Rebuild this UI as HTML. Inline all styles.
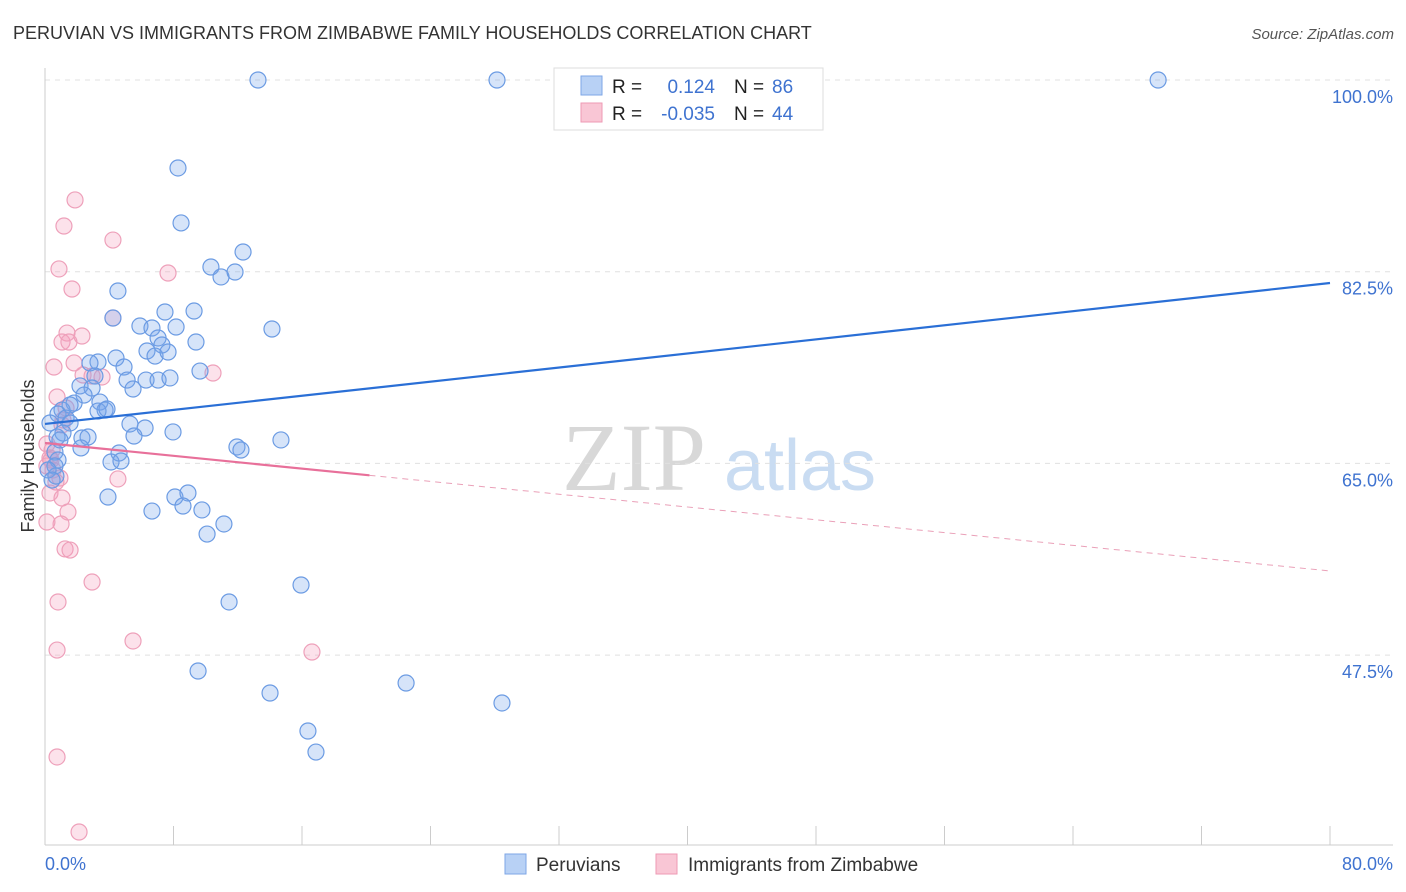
<!DOCTYPE html>
<html><head><meta charset="utf-8"><style>
body{margin:0;background:#fff;font-family:"Liberation Sans",sans-serif;}
svg{display:block}
</style></head><body>
<svg id="chart" width="1406" height="892" xmlns="http://www.w3.org/2000/svg">
<text x="13" y="39" font-size="18" fill="#333">PERUVIAN VS IMMIGRANTS FROM ZIMBABWE FAMILY HOUSEHOLDS CORRELATION CHART</text>
<text x="1394" y="39" font-size="15" fill="#555" text-anchor="end" font-style="italic">Source: ZipAtlas.com</text>
<g>
<text x="634" y="490" font-size="96" fill="#d8d8d8" font-family="Liberation Serif,serif" text-anchor="middle">ZIP</text>
<text x="800" y="490" font-size="72" fill="#c9dcf2" text-anchor="middle">atlas</text>
</g>
<g id="grid"></g>
<g id="axes"></g>
<g id="pts"></g>
<g id="lines"></g>
<text transform="translate(34,456) rotate(-90)" font-size="18" fill="#333" text-anchor="middle">Family Households</text>
<text x="45" y="870" font-size="18" fill="#3f73d0">0.0%</text>
<text x="1393" y="870" font-size="18" fill="#3f73d0" text-anchor="end">80.0%</text>
<g>
<rect x="554" y="68" width="269" height="62" fill="#fff" stroke="#ddd"/>
<rect x="581" y="76" width="21" height="19" fill="#b8d1f5" stroke="#7ea6e6"/>
<rect x="581" y="103" width="21" height="19" fill="#f9c6d5" stroke="#ee9ab4"/>
<text x="612" y="93" font-size="19" fill="#222">R =</text>
<text x="715" y="93" font-size="19" fill="#3f73d0" text-anchor="end">0.124</text>
<text x="734" y="93" font-size="19" fill="#222">N =</text>
<text x="772" y="93" font-size="19" fill="#3f73d0">86</text>
<text x="612" y="120" font-size="19" fill="#222">R =</text>
<text x="715" y="120" font-size="19" fill="#3f73d0" text-anchor="end">-0.035</text>
<text x="734" y="120" font-size="19" fill="#222">N =</text>
<text x="772" y="120" font-size="19" fill="#3f73d0">44</text>
</g>
<g>
<rect x="505" y="854" width="21" height="20" fill="#b8d1f5" stroke="#7ea6e6"/>
<text x="536" y="871" font-size="19" fill="#333">Peruvians</text>
<rect x="656" y="854" width="21" height="20" fill="#f9c6d5" stroke="#ee9ab4"/>
<text x="688" y="871" font-size="19" fill="#333">Immigrants from Zimbabwe</text>
</g>
</svg>
<script>
const yTicks=[100,82.5,65,47.5];
const yTickLabels=["100.0%","82.5%","65.0%","47.5%"];
const blueX=[13.26,28.14,69.3,8.28,8.47,12.33,10.33,10.96,11.83,4.54,4.23,7.47,9.28,5.91,6.66,8.16,7.04,14.13,9.40,6.35,7.28,6.85,7.66,3.30,4.42,2.80,4.92,3.11,5.11,6.29,7.04,7.78,9.65,2.18,2.93,5.48,2.43,1.81,3.42,3.74,1.06,1.56,0.81,3.30,3.86,1.31,1.56,5.29,6.23,5.54,7.97,1.12,0.75,2.30,2.68,2.24,11.95,12.20,14.69,0.62,4.61,0.81,4.11,4.73,0.62,0.68,3.92,8.09,8.90,8.59,6.66,9.77,11.14,10.09,15.94,11.46,9.53,14.01,22.48,28.45,16.37,16.87,0.19,0.44,0.31,0.93];
const blueY=[100,100,100,91.97,86.95,84.30,82.93,82.02,82.47,80.74,78.27,78.82,78.91,77.54,77.36,77.45,76.45,77.27,76.08,75.26,75.81,74.80,75.17,74.26,74.62,74.17,73.80,72.98,72.61,72.61,72.61,72.80,73.43,72.07,71.88,71.79,71.24,70.51,70.60,69.87,69.87,70.33,69.51,69.78,69.97,69.14,68.69,68.60,68.23,67.50,67.87,67.77,67.41,67.32,67.41,66.41,66.50,66.22,67.14,66.04,65.95,65.31,65.13,65.22,64.76,63.85,61.93,61.93,62.30,61.11,60.65,60.75,59.47,58.55,53.90,52.35,46.05,44.04,44.95,43.13,40.57,38.65,64.40,63.48,68.69,67.14];
const pinkX=[1.87,1.18,4.23,0.87,7.66,1.68,4.23,1.37,2.30,1.06,1.49,0.56,1.81,10.46,3.55,2.37,2.93,0.75,1.31,1.12,1.06,0.12,0.44,0.31,0.12,0.50,0.93,0.68,0.31,1.06,1.43,1.00,0.12,1.25,1.56,2.93,0.81,5.48,0.75,16.62,0.75,2.12,4.54,0.37];
const pinkY=[89.05,86.67,85.39,82.75,82.38,80.92,78.27,76.90,76.63,76.08,76.08,73.80,74.17,73.25,72.89,73.07,72.98,71.06,70.06,68.96,68.51,66.77,66.22,65.49,64.76,64.40,63.67,63.30,62.30,61.84,60.56,59.47,59.65,57.19,57.09,54.17,52.35,48.79,47.96,47.78,38.20,31.35,63.58,65.31];
const blueTrend=[68.60,81.47];
const pinkTrend=[66.86,55.18];
const pinkSolidEnd=20.2;
const NS="http://www.w3.org/2000/svg";
const X=v=>45+v/80*1285;
const Y=v=>80+(100-v)/17.5*191.7;
function mk(t,a,p){const e=document.createElementNS(NS,t);for(const k in a)e.setAttribute(k,a[k]);p.appendChild(e);return e;}
const grid=document.getElementById('grid'),axes=document.getElementById('axes'),pts=document.getElementById('pts'),lines=document.getElementById('lines');
yTicks.forEach((t,i)=>{
const l=mk('line',{x1:45,x2:1393,y1:Y(t),y2:Y(t),stroke:'#e0e0e0','stroke-dasharray':'5,5'},grid);


const tx=mk('text',{x:1393,y:Y(t)+23,'font-size':18,fill:'#3f73d0','text-anchor':'end'},grid);
tx.textContent=yTickLabels[i];


});
const ax=mk('line',{x1:45,x2:1393,y1:845,y2:845,stroke:'#ccc'},axes);


const ay=mk('line',{x1:45,x2:45,y1:68,y2:845,stroke:'#ccc'},axes);


for(let i=1;i<=10;i++){const tk=mk('line',{x1:X(i*8),x2:X(i*8),y1:826,y2:845,stroke:'#ccc'},axes);

}
pinkX.forEach((v,i)=>{const c=mk('circle',{cx:X(v),cy:Y(pinkY[i]),r:8,fill:'rgba(244,160,190,0.3)',stroke:'#eea0ba','stroke-width':1.2},pts);

});
blueX.forEach((v,i)=>{const c=mk('circle',{cx:X(v),cy:Y(blueY[i]),r:8,fill:'rgba(120,165,235,0.3)',stroke:'#6b9be3','stroke-width':1.2},pts);

});
const bl=mk('line',{x1:X(0),y1:Y(blueTrend[0]),x2:X(80),y2:Y(blueTrend[1]),stroke:'#2a6fd6','stroke-width':2.2},lines);


const pm=pinkTrend[0]+(pinkTrend[1]-pinkTrend[0])*pinkSolidEnd/80;
const ps=mk('line',{x1:X(0),y1:Y(pinkTrend[0]),x2:X(pinkSolidEnd),y2:Y(pm),stroke:'#e8709a','stroke-width':2.2},lines);


const pd=mk('line',{x1:X(pinkSolidEnd),y1:Y(pm),x2:X(80),y2:Y(pinkTrend[1]),stroke:'#eaa0b8','stroke-width':1,'stroke-dasharray':'6,5'},lines);


</script>
</body></html>
